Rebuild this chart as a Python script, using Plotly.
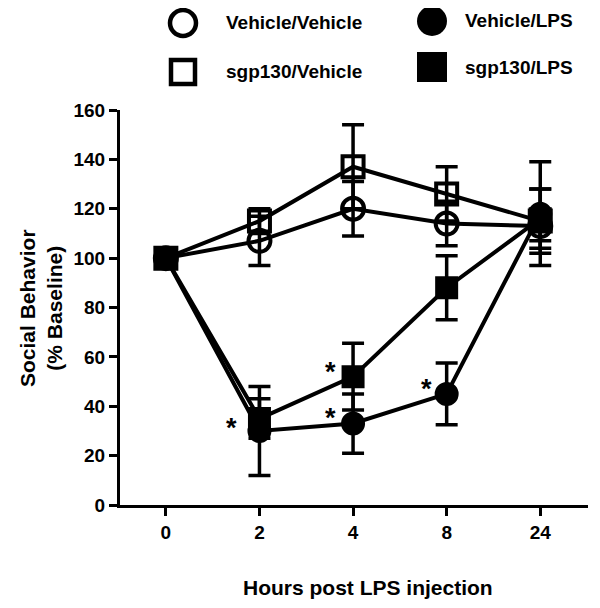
import plotly.graph_objects as go

hours = ["0", "2", "4", "8", "24"]
xpos = [0, 1, 2, 3, 4]

veh_veh = [100, 107, 120, 114, 113]
veh_veh_err = [0, 10, 11, 9, 6]
sgp_veh = [100, 115, 137, 126, 115]
sgp_veh_err = [0, 5, 17, 11, 13]
veh_lps = [100, 30, 33, 45, 118]
veh_lps_err = [0, 18, 12, 12.5, 21]
sgp_lps = [100, 35, 52, 88, 116]
sgp_lps_err = [0, 8, 13.5, 13, 12]

star_x = [1, 2, 2, 3]
star_y = [33.5, 56.5, 37.5, 49.5]
star_shift = [-28, -23, -23, -20]

yticks = [0, 20, 40, 60, 80, 100, 120, 140, 160]

FONT = "Liberation Sans, Arial, sans-serif"

fig = go.Figure()

def add(y, err, symbol, name, size):
    fig.add_trace(go.Scatter(
        x=xpos, y=y, name=name, mode="lines+markers",
        line=dict(color="black", width=4),
        marker=dict(symbol=symbol, size=size, color="black",
                    line=dict(color="black", width=4)),
        error_y=dict(type="data", array=err, visible=True,
                     color="black", thickness=3.5, width=11),
        showlegend=False,
    ))

add(veh_veh, veh_veh_err, "circle-open", "Vehicle/Vehicle", 22)
add(sgp_veh, sgp_veh_err, "square-open", "sgp130/Vehicle", 21)
add(veh_lps, veh_lps_err, "circle", "Vehicle/LPS", 20)
add(sgp_lps, sgp_lps_err, "square", "sgp130/LPS", 19)

for sx, sy, sh in zip(star_x, star_y, star_shift):
    fig.add_annotation(x=sx, y=sy, text="<b>*</b>", showarrow=False,
                       xshift=sh, yshift=-6,
                       font=dict(family=FONT, size=27, color="black"))

# manual legend (page coords: plot area 120..588 x, 110..505 y)
def px(x):
    return (x - 120) / 468.0

def py(y):
    return (505 - y) / 395.0

legend_items = [
    ("circle", False, 183, 23, "Vehicle/Vehicle", 224),
    ("circle", True, 432, 21, "Vehicle/LPS", 463),
    ("rect", False, 183, 72, "sgp130/Vehicle", 224),
    ("rect", True, 432, 67, "sgp130/LPS", 463),
]
for kind, filled, cx, cy, label, tx in legend_items:
    half = 13 if kind == "circle" else 12
    if filled:
        half = 15
    fig.add_shape(type=kind, xref="paper", yref="paper",
                  xsizemode="pixel", ysizemode="pixel",
                  xanchor=px(cx), yanchor=py(cy),
                  x0=-half, x1=half, y0=-half, y1=half,
                  line=dict(color="black", width=0 if filled else 4.5),
                  fillcolor="black" if filled else "rgba(0,0,0,0)")
    fig.add_annotation(x=px(tx), y=py(cy), xref="paper", yref="paper",
                       text="<b>" + label + "</b>", showarrow=False,
                       xanchor="left", yanchor="middle",
                       font=dict(family=FONT, size=19, color="black"))

fig.add_annotation(x=px(368), y=py(587), xref="paper", yref="paper",
                   text="<b>Hours post LPS injection</b>", showarrow=False,
                   xanchor="center", yanchor="middle",
                   font=dict(family=FONT, size=21, color="black"))
fig.add_annotation(x=px(41), y=py(308), xref="paper", yref="paper",
                   text="<b>Social Behavior<br>(% Baseline)</b>", showarrow=False,
                   textangle=-90, xanchor="center", yanchor="middle",
                   font=dict(family=FONT, size=21, color="black"))

fig.update_layout(
    width=592, height=600,
    margin=dict(l=112, r=12, t=102, b=103),
    paper_bgcolor="white", plot_bgcolor="white",
    font=dict(family=FONT, color="black"),
    xaxis=dict(range=[-0.49, 4.51], tickvals=xpos,
               ticktext=["<b>" + h + "</b>" for h in hours],
               showgrid=False, zeroline=False, showline=True,
               linecolor="black", linewidth=3, ticks="outside",
               ticklen=8, tickwidth=3, tickcolor="black",
               tickfont=dict(family=FONT, size=19, color="black")),
    yaxis=dict(range=[0, 160], tickvals=yticks,
               ticktext=["<b>%d</b>" % t for t in yticks],
               showgrid=False, zeroline=False, showline=True,
               linecolor="black", linewidth=3, ticks="outside",
               ticklen=8, tickwidth=3, tickcolor="black",
               tickfont=dict(family=FONT, size=19, color="black")),
)

fig.write_html("out.html")
